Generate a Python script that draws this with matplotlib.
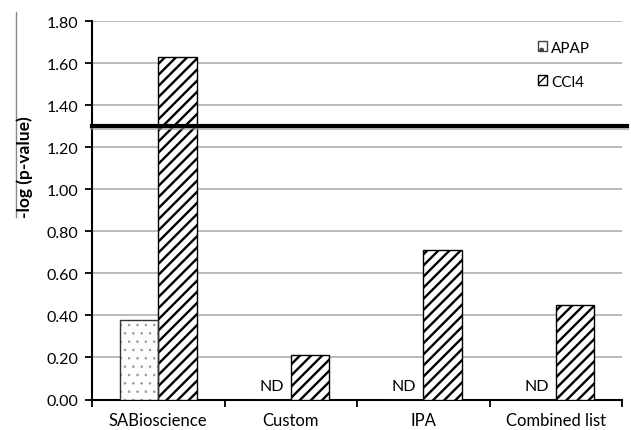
import numpy as np
import matplotlib
matplotlib.use('Agg')
import matplotlib.pyplot as plt
import matplotlib.patheffects as pe
from matplotlib.patches import Patch
from matplotlib.lines import Line2D

# data
categories = ['SABioscience', 'Custom', 'IPA', 'Combined list']
apap = [0.38, 0.0, 0.0, 0.0]
ccl4 = [1.63, 0.21, 0.71, 0.45]
apap_nd = [False, True, True, True]
threshold = 1.30
yticks = [0.0, 0.2, 0.4, 0.6, 0.8, 1.0, 1.2, 1.4, 1.6, 1.8]

plt.rcParams['font.family'] = ['Lato', 'DejaVu Sans']

fig = plt.figure(figsize=(6.31, 4.31), dpi=100)
ax = fig.add_axes([92 / 631, 1 - 400.5 / 431, 530 / 631, 378.5 / 431])

x = np.arange(len(categories))
w = 0.29

# APAP: sparse gray dots, dark outline
with plt.rc_context({'hatch.linewidth': 0.6}):
    ax.bar(x - w / 2, apap, w, color='#fdfdfd', edgecolor='#9a9a9a', hatch='..',
           linewidth=0, zorder=3)
ax.bar(x - w / 2, apap, w, color='none', edgecolor='#333333', linewidth=1.0,
       zorder=4)
# CCl4: diagonal hatch
with plt.rc_context({'hatch.linewidth': 1.7}):
    ax.bar(x + w / 2, ccl4, w, color='white', edgecolor='black', hatch='///',
           linewidth=1.0, zorder=3)

for i, nd in enumerate(apap_nd):
    if nd:
        ax.text(x[i] - w / 2, 0.064, 'ND', ha='center', va='center',
                fontsize=11.5, zorder=5)

# significance line with a soft shadow
ax.axhline(threshold, xmin=0, xmax=1.01, color='black', linewidth=3,
           clip_on=False, zorder=6,
           path_effects=[pe.SimpleLineShadow(offset=(0, -1.5),
                                             shadow_color='#999999', alpha=0.6),
                         pe.Normal()])

ax.set_xlim(-0.5, len(categories) - 0.5)
ax.set_ylim(0, 1.8)
ax.set_yticks(yticks)
ax.set_yticklabels(['%.2f' % v for v in yticks], fontsize=11.5)
ax.yaxis.grid(True, color='#b5b5b5', linewidth=1.3, zorder=0)
ax.set_axisbelow(True)

ax.set_xticks(x)
ax.set_xticklabels(categories, fontsize=12)
ax.tick_params(axis='x', which='major', length=0, pad=9)
ax.set_xticks(np.arange(len(categories) + 1) - 0.5, minor=True)
ax.tick_params(axis='x', which='minor', length=5, width=1.3, direction='out')
ax.tick_params(axis='y', length=5, width=1.3, direction='out', pad=5)

for s in ['top', 'right']:
    ax.spines[s].set_visible(False)
ax.spines['left'].set_linewidth(1.5)
ax.spines['bottom'].set_linewidth(1.5)

fig.text(25 / 631, 1 - 167 / 431, '-log (p-value)', rotation=90,
         ha='center', va='center', fontsize=12.5, fontweight='bold')
fig.add_artist(Line2D([16 / 631, 16 / 631], [1 - 13 / 431, 1 - 218 / 431],
                      transform=fig.transFigure, color='#888888', linewidth=1))

handles = [Patch(facecolor='#fcfcfc', edgecolor='#444444', hatch='.'),
           Patch(facecolor='white', edgecolor='black', hatch='///')]
ax.legend(handles, ['APAP', 'CCl4'], loc='upper left',
          bbox_to_anchor=(530 / 631, 1 - 34 / 431), bbox_transform=fig.transFigure,
          frameon=False, fontsize=11, handlelength=0.6, handleheight=0.6,
          handletextpad=0.3, labelspacing=1.3, borderpad=0)

fig.savefig('out.png', dpi=100)
